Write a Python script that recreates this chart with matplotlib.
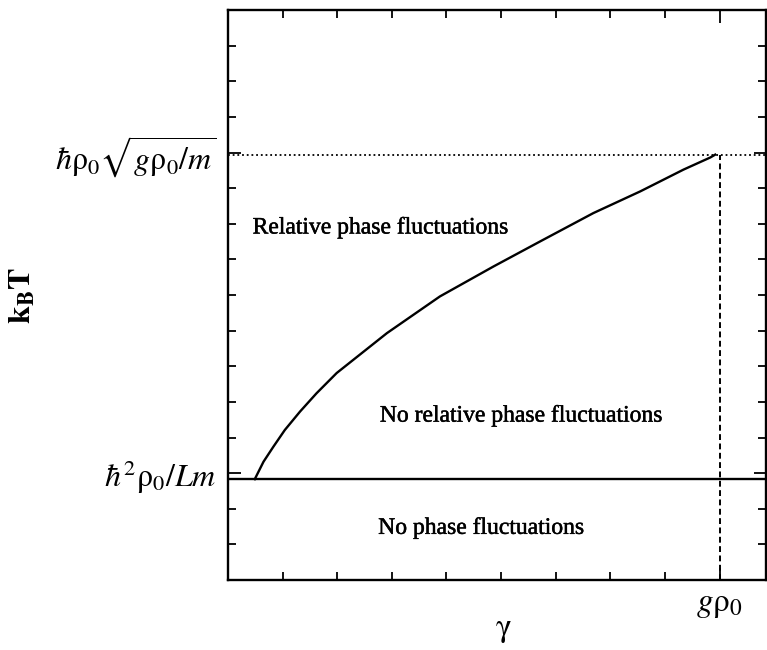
import numpy as np
import matplotlib
matplotlib.use("Agg")
import matplotlib.pyplot as plt
import matplotlib.patheffects as pe
from matplotlib.ticker import FixedLocator

plt.rcParams['font.family'] = ['Liberation Serif', 'DejaVu Serif']
plt.rcParams['mathtext.fontset'] = 'stix'

# crossover curve between the two regimes
gamma = [0.49, 0.65, 0.83, 1.04, 1.32, 1.62, 1.99, 2.91, 3.88, 4.86, 5.71, 6.69, 7.55, 8.34, 8.83, 8.92]
kT = [2.83, 3.32, 3.74, 4.21, 4.73, 5.24, 5.81, 6.93, 7.96, 8.80, 9.50, 10.30, 10.91, 11.52, 11.86, 11.94]

g_rho0 = 9.0        # x position of g rho_0
T_high = 11.94      # hbar rho0 sqrt(g rho0 / m)
T_low = 2.83        # hbar^2 rho0 / L m
xmax, ymax = 9.85, 16.0

x_minor = [1, 2, 3, 4, 5, 6, 7, 8]
y_minor = list(range(1, 16))
y_major = [3, 12]
y_labels = [r'$\hbar^2\mathrm{\rho}_0/Lm$', r'$\hbar\mathrm{\rho}_0\sqrt{g\mathrm{\rho}_0/m}$']

regions = ["Relative phase fluctuations", "No relative phase fluctuations", "No phase fluctuations"]
region_pos = [(0.45, 9.88), (2.78, 4.6), (2.75, 1.45)]

fig = plt.figure(figsize=(7.67, 6.5), dpi=100)
ax = fig.add_axes([228 / 767, 1 - 580 / 650, (766 - 228) / 767, 570 / 650])

ax.plot(gamma, kT, color='black', lw=1.7, solid_joinstyle='round')
ax.axhline(T_low, color='black', lw=1.7)
ax.axhline(T_high, color='black', lw=1.3, ls=(0, (1, 1.6)))
ax.plot([g_rho0, g_rho0], [0, T_high], color='black', lw=1.4, ls=(0, (3, 1.8)))

ax.set_xlim(0, xmax)
ax.set_ylim(0, ymax)

ax.xaxis.set_major_locator(FixedLocator([g_rho0]))
ax.xaxis.set_minor_locator(FixedLocator(x_minor))
ax.set_xticklabels([r'$g\mathrm{\rho}_0$'], fontsize=24)
ax.yaxis.set_major_locator(FixedLocator(y_major))
ax.yaxis.set_minor_locator(FixedLocator([v for v in y_minor if v not in y_major]))
ax.set_yticklabels(y_labels, fontsize=23)

ax.tick_params(which='both', direction='in', top=True, right=True, width=1.3)
ax.tick_params(which='minor', length=6)
ax.tick_params(which='major', length=9)
ax.tick_params(axis='y', which='major', pad=8)
ax.tick_params(axis='x', which='major', pad=7)

for s in ax.spines.values():
    s.set_linewidth(1.7)

for txt, (x, y) in zip(regions, region_pos):
    ax.text(x, y, txt, fontsize=17, va='center', ha='left',
            path_effects=[pe.withStroke(linewidth=0.35, foreground='black')])

fig.text(503 / 767, 1 - 630 / 650, r'$\mathrm{\gamma}$', fontsize=24, ha='center', va='center')
fig.text(23 / 767, 1 - 295 / 650, r'$\mathbf{k_B T}$', rotation=90, fontsize=23,
         ha='center', va='center')

fig.savefig('out.png', dpi=100)
